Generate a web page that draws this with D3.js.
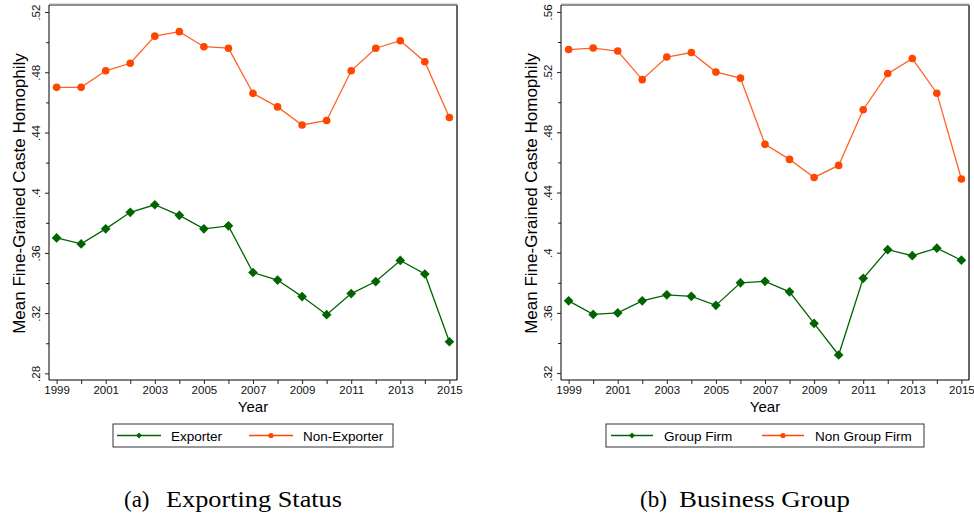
<!DOCTYPE html>
<html>
<head>
<meta charset="utf-8">
<script src="https://cdn.jsdelivr.net/npm/d3@7"></script>
<style>
  html, body { margin: 0; padding: 0; background: #fff; }
  svg { display: block; font-family: "Liberation Sans", Arial, sans-serif; }
</style>
</head>
<body>
<svg id="chart" width="974" height="518"></svg>
<script>
// Years on the x axis
const years = [1999, 2000, 2001, 2002, 2003, 2004, 2005, 2006, 2007,
               2008, 2009, 2010, 2011, 2012, 2013, 2014, 2015];
const yearLabels = [1999, 2001, 2003, 2005, 2007, 2009, 2011, 2013, 2015];

// Panel (a): exporting status
const exporter = [0.370, 0.366, 0.376, 0.387, 0.392, 0.385, 0.376, 0.378, 0.347,
                  0.342, 0.331, 0.319, 0.333, 0.341, 0.355, 0.346, 0.301];
const nonExporter = [0.470, 0.470, 0.481, 0.486, 0.504, 0.507, 0.497, 0.496, 0.466,
                     0.457, 0.445, 0.448, 0.481, 0.496, 0.501, 0.487, 0.450];
const ticksA = [0.28, 0.32, 0.36, 0.40, 0.44, 0.48, 0.52];

// Panel (b): business group
const groupFirm = [0.368, 0.359, 0.360, 0.368, 0.372, 0.371, 0.365, 0.380, 0.381,
                   0.374, 0.353, 0.332, 0.383, 0.402, 0.398, 0.403, 0.395];
const nonGroupFirm = [0.535, 0.536, 0.534, 0.515, 0.530, 0.533, 0.520, 0.516, 0.472,
                      0.462, 0.450, 0.458, 0.495, 0.519, 0.529, 0.506, 0.449];
const ticksB = [0.32, 0.36, 0.40, 0.44, 0.48, 0.52, 0.56];

const GREEN = "#006400";
const ORANGE = "#ff4500";
const fmtTick = d => d3.format(".2~f")(d).replace(/^0/, "");

const svg = d3.select("#chart");

function drawPanel(cfg) {
  const { left, right, top, bottom } = cfg.frame;
  const x = d3.scaleLinear().domain([1998.69, 2015.31]).range([left, right]);
  const y = d3.scaleLinear().domain(cfg.yDomain).range([bottom, top]);
  const g = svg.append("g");

  // plot region box
  g.append("line").attr("x1", left).attr("x2", right + 1).attr("y1", top - 1.5).attr("y2", top - 1.5)
    .attr("stroke", "#ddd").attr("stroke-width", 1);
  g.append("line").attr("x1", left).attr("x2", right).attr("y1", top).attr("y2", top)
    .attr("stroke", "#222").attr("stroke-width", 1);
  g.append("line").attr("x1", right).attr("x2", right).attr("y1", top).attr("y2", bottom)
    .attr("stroke", "#666").attr("stroke-width", 2);

  // minor y ticks halfway between labelled ticks
  const minor = cfg.ticks.slice(0, -1).map((t, i) => (t + cfg.ticks[i + 1]) / 2);
  g.append("g").attr("transform", `translate(${left},0)`)
    .call(d3.axisLeft(y).tickValues(minor).tickSize(3).tickFormat(""))
    .call(a => a.select(".domain").remove())
    .call(a => a.selectAll("line").attr("stroke", "#222"));

  // y axis
  const ya = g.append("g").attr("transform", `translate(${left},0)`)
    .call(d3.axisLeft(y).tickValues(cfg.ticks).tickSize(4).tickSizeOuter(0).tickFormat(fmtTick));
  ya.select(".domain").attr("stroke", "#000").attr("d", `M0,${top}V${bottom}`);
  ya.selectAll("line").attr("stroke", "#222");
  ya.selectAll("text")
    .attr("x", 0).attr("dy", 0)
    .attr("transform", "translate(-9,0) rotate(-90)")
    .attr("text-anchor", "middle")
    .attr("font-size", 11.5)
    .attr("font-family", "Liberation Sans, Arial, sans-serif")
    .attr("fill", "#111");

  // x axis
  const xa = g.append("g").attr("transform", `translate(0,${bottom})`)
    .call(d3.axisBottom(x).tickValues(years).tickSize(4).tickSizeOuter(0)
      .tickFormat(d => yearLabels.includes(d) ? String(d) : ""));
  xa.select(".domain").attr("stroke", "#000").attr("d", `M${left},0H${right}`);
  xa.selectAll("line").attr("stroke", "#222");
  xa.selectAll("text")
    .attr("y", 6).attr("dy", "0.71em")
    .attr("font-size", 11.5)
    .attr("font-family", "Liberation Sans, Arial, sans-serif")
    .attr("fill", "#111");

  // axis titles
  g.append("text").attr("x", (left + right) / 2).attr("y", bottom + 32)
    .attr("text-anchor", "middle").attr("font-size", 15).attr("fill", "#000").text("Year");
  g.append("text")
    .attr("transform", `translate(${left - 24},${(top + bottom) / 2 + 1}) rotate(-90)`)
    .attr("text-anchor", "middle").attr("font-size", 17).attr("fill", "#000")
    .text("Mean Fine-Grained Caste Homophily");

  const line = d3.line().x((d, i) => x(years[i])).y(d => y(d));

  // lower series: green with diamonds
  g.append("path").datum(cfg.series[0]).attr("d", line)
    .attr("fill", "none").attr("stroke", GREEN).attr("stroke-width", 1.3);
  g.selectAll(".dia").data(cfg.series[0]).join("path")
    .attr("d", d3.symbol(d3.symbolDiamond2, 60))
    .attr("transform", (d, i) => `translate(${x(years[i])},${y(d)})`)
    .attr("fill", GREEN);

  // upper series: orange with circles
  g.append("path").datum(cfg.series[1]).attr("d", line)
    .attr("fill", "none").attr("stroke", ORANGE).attr("stroke-width", 1.3).attr("stroke-opacity", 0.85);
  g.selectAll(".dot").data(cfg.series[1]).join("circle")
    .attr("cx", (d, i) => x(years[i])).attr("cy", d => y(d)).attr("r", 3.8)
    .attr("fill", ORANGE);

  // legend
  const L = cfg.legend;
  const lg = g.append("g");
  lg.append("rect").attr("x", L.x0).attr("y", 424).attr("width", L.x1 - L.x0).attr("height", 23)
    .attr("fill", "#fff").attr("stroke", "#333").attr("stroke-width", 1);
  L.items.forEach((it, k) => {
    const col = k === 0 ? GREEN : ORANGE;
    lg.append("line").attr("x1", it.s0).attr("x2", it.s1).attr("y1", 435.5).attr("y2", 435.5)
      .attr("stroke", col).attr("stroke-width", 1.3);
    if (k === 0) {
      lg.append("path").attr("d", d3.symbol(d3.symbolDiamond2, 22))
        .attr("transform", `translate(${(it.s0 + it.s1) / 2},435.5)`).attr("fill", col);
    } else {
      lg.append("circle").attr("cx", (it.s0 + it.s1) / 2).attr("cy", 435.5).attr("r", 2.6).attr("fill", col);
    }
    lg.append("text").attr("x", it.tx).attr("y", 440.5).attr("font-size", 13.5).attr("fill", "#000")
      .text(it.label);
  });

  // caption: sub-figure tag followed by its title
  const C = cfg.caption;
  const cap = svg.append("g")
    .attr("font-family", "Liberation Serif, Times New Roman, serif")
    .attr("font-size", 23).attr("fill", "#000");
  cap.append("text").attr("x", C.x).attr("y", 507).text(C.tag);
  cap.append("text").attr("x", C.tx).attr("y", 507)
    .attr("textLength", C.len).attr("lengthAdjust", "spacingAndGlyphs")
    .text(C.text);
}

drawPanel({
  frame: { left: 49, right: 457, top: 5, bottom: 380 },
  yDomain: [0.2756, 0.5247],
  ticks: ticksA,
  series: [exporter, nonExporter],
  legend: { x0: 113, x1: 393, items: [
    { s0: 117, s1: 161, tx: 171, label: "Exporter" },
    { s0: 249, s1: 293, tx: 303, label: "Non-Exporter" } ] },
  caption: { x: 124, tag: "(a)", tx: 166, len: 176, text: "Exporting Status" }
});

drawPanel({
  frame: { left: 561, right: 969, top: 5, bottom: 380 },
  yDomain: [0.3154, 0.5646],
  ticks: ticksB,
  series: [groupFirm, nonGroupFirm],
  legend: { x0: 606, x1: 924, items: [
    { s0: 611, s1: 653, tx: 664, label: "Group Firm" },
    { s0: 762, s1: 804, tx: 815, label: "Non Group Firm" } ] },
  caption: { x: 640, tag: "(b)", tx: 679, len: 171, text: "Business Group" }
});
</script>
</body>
</html>
